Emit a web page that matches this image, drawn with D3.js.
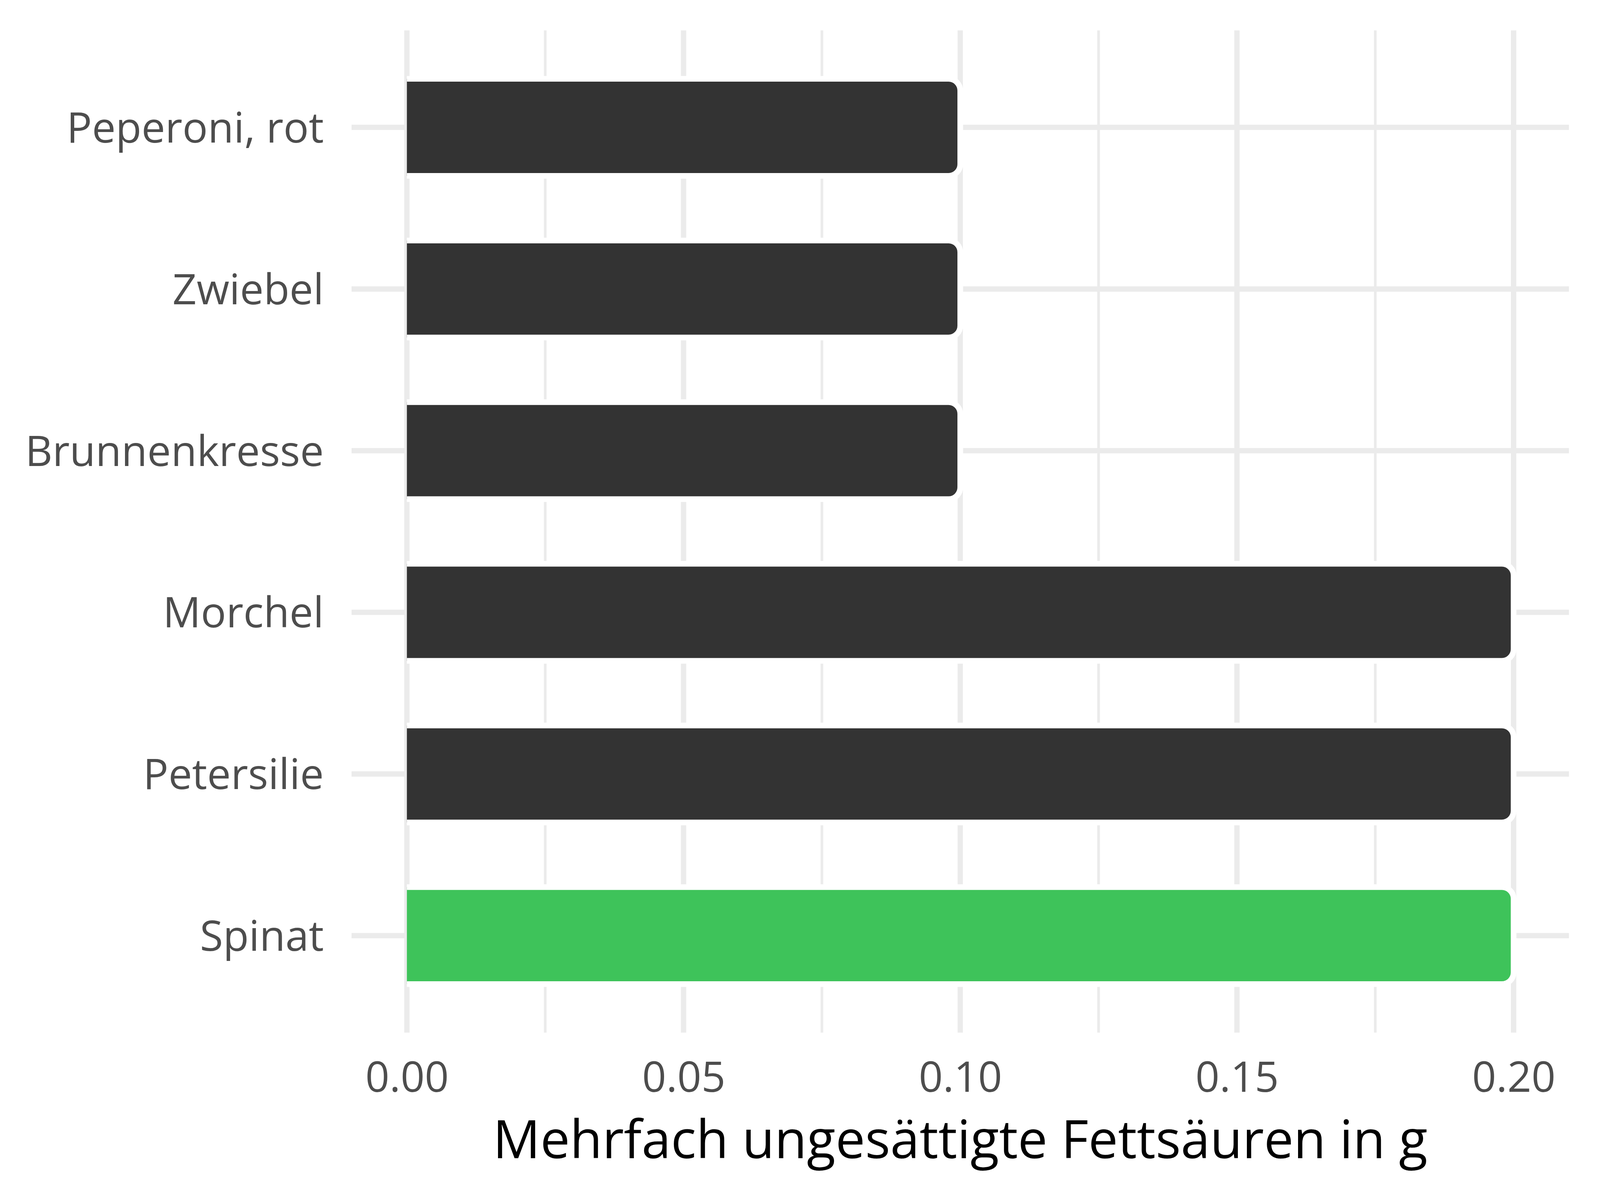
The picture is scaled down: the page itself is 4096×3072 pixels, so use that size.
<!DOCTYPE html>
<html>
<head>
<meta charset="utf-8">
<script src="https://cdn.jsdelivr.net/npm/d3@7"></script>
<style>
  html, body { margin: 0; padding: 0; background: #fff; }
  svg { display: block; }
</style>
</head>
<body>
<svg></svg>
<script>
// data
const foods = ["Peperoni, rot", "Zwiebel", "Brunnenkresse", "Morchel", "Petersilie", "Spinat"]
const values = [0.1, 0.1, 0.1, 0.2, 0.2, 0.2]
const highlight = "Spinat"
const xTicks = [0, 0.05, 0.1, 0.15, 0.2]
const xMinor = [0.025, 0.075, 0.125, 0.175]
const xTitle = "Mehrfach ungesättigte Fettsäuren in g"

const W = 4096, H = 3072
const panel = {left: 900, right: 4016.5, top: 77.7, bottom: 2643.5}

const svg = d3.select("svg")
    .attr("width", W)
    .attr("height", H)

const x = d3.scaleLinear()
    .domain([-0.01, 0.21])
    .range([panel.left, panel.right])

const y = d3.scalePoint()
    .domain(foods)
    .range([panel.top, panel.bottom])
    .padding(0.6)

const barH = y.step() * 0.6
const r = 30

// grid
const grid = svg.append("g")
grid.selectAll("line.minor")
    .data(xMinor)
    .enter()
    .append("line")
    .attr("x1", d => x(d)).attr("x2", d => x(d))
    .attr("y1", panel.top).attr("y2", panel.bottom)
    .attr("stroke", "#EBEBEB")
    .attr("stroke-width", 6.8)

grid.selectAll("line.major")
    .data(xTicks)
    .enter()
    .append("line")
    .attr("x1", d => x(d)).attr("x2", d => x(d))
    .attr("y1", panel.top).attr("y2", panel.bottom)
    .attr("stroke", "#EBEBEB")
    .attr("stroke-width", 13.6)

grid.selectAll("line.hy")
    .data(foods)
    .enter()
    .append("line")
    .attr("x1", panel.left).attr("x2", panel.right)
    .attr("y1", d => y(d)).attr("y2", d => y(d))
    .attr("stroke", "#EBEBEB")
    .attr("stroke-width", 13.6)

// bars: square on the left, rounded on the right
const barPath = function (d, i) {
    const x0 = x(0), x1 = x(values[i])
    const y0 = y(d) - barH / 2, y1 = y(d) + barH / 2
    return `M${x0},${y0}H${x1 - r}A${r},${r} 0 0 1 ${x1},${y0 + r}` +
        `V${y1 - r}A${r},${r} 0 0 1 ${x1 - r},${y1}H${x0}`
}

svg.append("g")
    .selectAll("path")
    .data(foods)
    .enter()
    .append("path")
    .attr("d", barPath)
    .attr("fill", d => d === highlight ? "#3EC35A" : "#333333")
    .attr("stroke", "#ffffff")
    .attr("stroke-width", 14.5)

// y labels
svg.append("g")
    .selectAll("text")
    .data(foods)
    .enter()
    .append("text")
    .attr("x", 829)
    .attr("y", d => y(d))
    .attr("dy", "0.36em")
    .attr("text-anchor", "end")
    .style("font-family", "'Open Sans'")
    .style("font-size", "108px")
    .style("fill", "#4D4D4D")
    .text(d => d)

// x axis labels
const xAxis = svg.append("g")
    .attr("transform", `translate(0, ${2794.6 - 108 * 0.72})`)
    .call(d3.axisBottom(x).tickValues(xTicks).tickFormat(d3.format(".2f")).tickSize(0).tickPadding(0))

xAxis.select(".domain").remove()
xAxis.selectAll("text")
    .attr("dy", "0.72em")
    .style("font-family", "'Open Sans'")
    .style("font-size", "108px")
    .style("fill", "#4D4D4D")

// title
svg.append("text")
    .attr("x", (panel.left + panel.right) / 2)
    .attr("y", 2965)
    .attr("text-anchor", "middle")
    .style("font-family", "'Open Sans'")
    .style("font-size", "135px")
    .style("fill", "#000000")
    .text(xTitle)
</script>
</body>
</html>
